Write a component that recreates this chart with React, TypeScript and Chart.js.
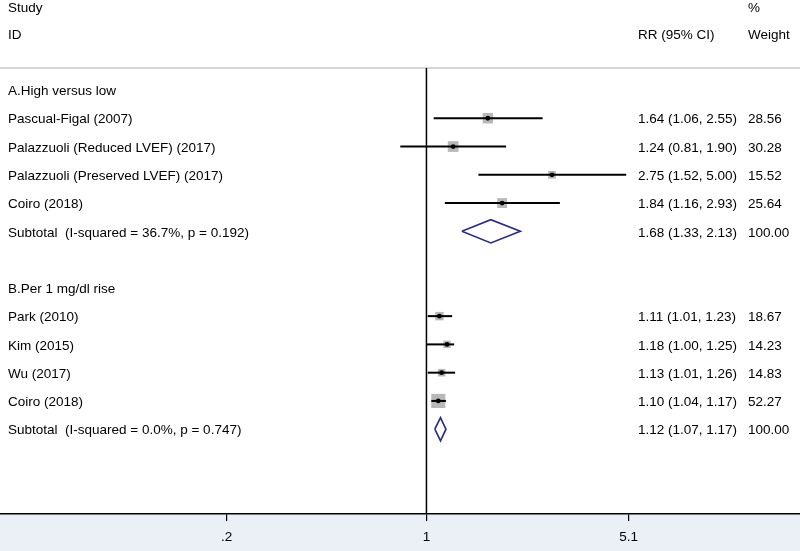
import { useEffect, useRef } from 'react';
import { Chart, registerables } from 'chart.js';

Chart.register(...registerables);

// ---------------- data ----------------
const headerTop = ['Study', '', '%'];
const headerBottom = ['ID', 'RR (95% CI)', 'Weight'];

const groupTitles = ['A.High versus low', 'B.Per 1 mg/dl rise'];

const studiesA = [
  'Pascual-Figal (2007)',
  'Palazzuoli (Reduced LVEF) (2017)',
  'Palazzuoli (Preserved LVEF) (2017)',
  'Coiro (2018)',
];
const rrA = [1.64, 1.24, 2.75, 1.84];
const lowA = [1.06, 0.81, 1.52, 1.16];
const highA = [2.55, 1.9, 5.0, 2.93];
const weightA = [28.56, 30.28, 15.52, 25.64];

const studiesB = ['Park (2010)', 'Kim (2015)', 'Wu (2017)', 'Coiro (2018)'];
const rrB = [1.11, 1.18, 1.13, 1.1];
const lowB = [1.01, 1.0, 1.01, 1.04];
const highB = [1.23, 1.25, 1.26, 1.17];
const weightB = [18.67, 14.23, 14.83, 52.27];

const subtotalLabels = [
  'Subtotal  (I-squared = 36.7%, p = 0.192)',
  'Subtotal  (I-squared = 0.0%, p = 0.747)',
];
const subtotalRR = [1.68, 1.12];
const subtotalLow = [1.33, 1.07];
const subtotalHigh = [2.13, 1.17];
const subtotalWeight = [100, 100];

const xTicks = [0.2, 1, 5.1];
const xTickLabels = ['.2', '1', '5.1'];
const xAxisMin = 0.0322;
const xAxisMax = 20.28;

// ---------------- layout helpers ----------------
const FONT = '"Liberation Sans", Arial, Helvetica, sans-serif';
const FONT_SIZE = 13.5;
const NAVY = '#2b2e82';
const BOX = '#b8b8b8';
const BAND = '#eaf0f5';

type Row = {
  kind: 'title' | 'study' | 'subtotal';
  label: string;
  y: number;
  rr?: number;
  lo?: number;
  hi?: number;
  w?: number;
};

function buildRows(): Row[] {
  const groups = [
    { s: studiesA, rr: rrA, lo: lowA, hi: highA, w: weightA },
    { s: studiesB, rr: rrB, lo: lowB, hi: highB, w: weightB },
  ];
  const rows: Row[] = [];
  let y = 1;
  groups.forEach((g, gi) => {
    rows.push({ kind: 'title', label: groupTitles[gi], y: y++ });
    g.s.forEach((name, i) => {
      rows.push({ kind: 'study', label: name, rr: g.rr[i], lo: g.lo[i], hi: g.hi[i], w: g.w[i], y: y++ });
    });
    rows.push({
      kind: 'subtotal',
      label: subtotalLabels[gi],
      rr: subtotalRR[gi],
      lo: subtotalLow[gi],
      hi: subtotalHigh[gi],
      w: subtotalWeight[gi],
      y: y++,
    });
    y++;
  });
  return rows;
}

export default function App() {
  const ref = useRef<HTMLCanvasElement | null>(null);

  useEffect(() => {
    const canvas = ref.current;
    if (!canvas) return;
    const rows = buildRows();
    const studies = rows.filter((r) => r.kind === 'study');
    const subs = rows.filter((r) => r.kind === 'subtotal');
    const diamondHalf = 0.41;

    const datasets: any[] = [];
    studies.forEach((r) => {
      datasets.push({
        type: 'line',
        data: [
          { x: r.lo, y: r.y },
          { x: r.hi, y: r.y },
        ],
        borderColor: '#000',
        borderWidth: 2,
        pointRadius: 0,
        fill: false,
        order: 2,
      });
    });
    datasets.push({
      type: 'scatter',
      data: studies.map((r) => ({ x: r.rr, y: r.y })),
      pointStyle: 'rect',
      pointRadius: studies.map((r) => (1.95 * Math.sqrt(r.w as number)) / Math.SQRT2),
      backgroundColor: BOX,
      borderWidth: 0,
      order: 3,
    });
    datasets.push({
      type: 'scatter',
      data: studies.map((r) => ({ x: r.rr, y: r.y })),
      pointStyle: 'circle',
      pointRadius: 2.4,
      backgroundColor: '#000',
      borderWidth: 0,
      order: 1,
    });
    subs.forEach((r) => {
      datasets.push({
        type: 'line',
        data: [
          { x: r.lo, y: r.y },
          { x: r.rr, y: r.y - diamondHalf },
          { x: r.hi, y: r.y },
          { x: r.rr, y: r.y + diamondHalf },
          { x: r.lo, y: r.y },
        ],
        borderColor: NAVY,
        borderWidth: 1.7,
        borderJoinStyle: 'miter',
        pointRadius: 0,
        fill: false,
        tension: 0,
        order: 1,
      });
    });

    const decor = {
      id: 'forestDecor',
      beforeDraw(chart: any) {
        const { ctx, chartArea, width, height } = chart;
        ctx.save();
        ctx.fillStyle = '#fff';
        ctx.fillRect(0, 0, width, height);
        ctx.fillStyle = BAND;
        ctx.fillRect(0, chartArea.bottom, width, height - chartArea.bottom);
        ctx.restore();
      },
      beforeDatasetsDraw(chart: any) {
        const { ctx, chartArea, width, scales } = chart;
        ctx.save();
        ctx.strokeStyle = '#c8c8c8';
        ctx.lineWidth = 1.5;
        ctx.beginPath();
        ctx.moveTo(0, chartArea.top);
        ctx.lineTo(width, chartArea.top);
        ctx.stroke();
        const x1 = scales.x.getPixelForValue(1);
        ctx.strokeStyle = '#000';
        ctx.lineWidth = 1.5;
        ctx.beginPath();
        ctx.moveTo(x1, chartArea.top);
        ctx.lineTo(x1, chartArea.bottom);
        ctx.stroke();
        ctx.restore();
      },
      afterDatasetsDraw(chart: any) {
        const { ctx, scales } = chart;
        const ys = scales.y;
        const dy = 1.5;
        ctx.save();
        ctx.fillStyle = '#000';
        ctx.font = `${FONT_SIZE}px ${FONT}`;
        ctx.textBaseline = 'middle';
        ctx.textAlign = 'left';
        const colL = 8;
        const colM = 638;
        const colR = 748;
        const yTop = ys.getPixelForValue(-2) + dy + 1.5;
        const yBot = ys.getPixelForValue(-1) + dy;
        [colL, colM, colR].forEach((cx, i) => {
          if (headerTop[i]) ctx.fillText(headerTop[i], cx, yTop);
          if (headerBottom[i]) ctx.fillText(headerBottom[i], cx, yBot);
        });
        rows.forEach((r) => {
          const py = ys.getPixelForValue(r.y) + dy;
          ctx.fillText(r.label, colL, py);
          if (r.kind !== 'title') {
            const txt = `${(r.rr as number).toFixed(2)} (${(r.lo as number).toFixed(2)}, ${(r.hi as number).toFixed(2)})`;
            ctx.fillText(txt, colM, py);
            ctx.fillText((r.w as number).toFixed(2), colR, py);
          }
        });
        ctx.restore();
      },
    };

    const chart = new Chart(canvas, {
      type: 'scatter',
      data: { datasets },
      options: {
        animation: false,
        responsive: false,
        devicePixelRatio: 1,
        events: [],
        layout: { autoPadding: false, padding: { top: 68, left: 0, right: 0, bottom: 0 } },
        plugins: { legend: { display: false }, tooltip: { enabled: false } },
        scales: {
          x: {
            type: 'logarithmic',
            min: xAxisMin,
            max: xAxisMax,
            bounds: 'data',
            position: 'bottom',
            afterBuildTicks: (s: any) => {
              s.ticks = xTicks.map((v) => ({ value: v }));
            },
            afterFit: (s: any) => {
              s.height = 37;
            },
            ticks: {
              callback: (_v: any, i: number) => xTickLabels[i],
              font: { family: FONT, size: FONT_SIZE },
              color: '#000',
              padding: 8,
              maxRotation: 0,
              autoSkip: false,
            },
            grid: {
              drawOnChartArea: false,
              drawTicks: true,
              tickLength: 7,
              color: '#000',
              lineWidth: 1.2,
            },
            border: { display: true, color: '#000', width: 1.5 },
          },
          y: {
            type: 'linear',
            min: 0.222,
            max: 16,
            reverse: true,
            display: false,
          },
        },
      },
      plugins: [decor],
    } as any);

    return () => {
      chart.destroy();
    };
  }, []);

  return (
    <div style={{ position: 'fixed', left: 0, top: 0, width: 800, height: 551 }}>
      <canvas ref={ref} width={800} height={551} style={{ display: 'block', width: 800, height: 551 }} />
    </div>
  );
}
